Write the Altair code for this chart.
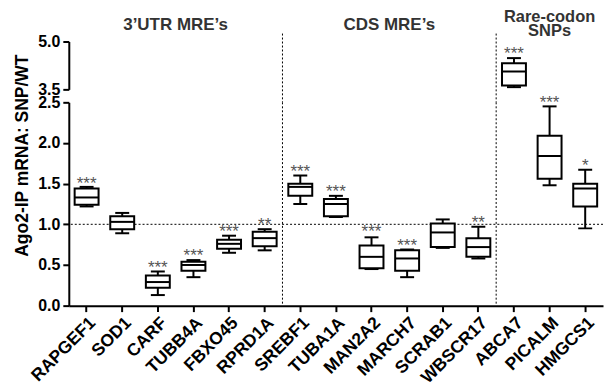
import altair as alt
import pandas as pd

genes = ["RAPGEF1", "SOD1", "CARF", "TUBB4A", "FBXO45", "RPRD1A", "SREBF1", "TUBA1A",
         "MAN2A2", "MARCH7", "SCRAB1", "WBSCR17", "ABCA7", "PICALM", "HMGCS1"]
wmin = [1.22, 0.89, 0.13, 0.35, 0.65, 0.68, 1.25, 1.09, 0.45, 0.35, 0.71, 0.58, 3.57, 1.48, 0.95]
q1 = [1.24, 0.94, 0.22, 0.43, 0.70, 0.73, 1.35, 1.10, 0.46, 0.43, 0.72, 0.60, 3.62, 1.56, 1.22]
med = [1.33, 1.03, 0.29, 0.50, 0.76, 0.83, 1.46, 1.25, 0.60, 0.58, 0.90, 0.72, 4.06, 1.84, 1.44]
q3 = [1.44, 1.10, 0.37, 0.54, 0.81, 0.91, 1.50, 1.31, 0.74, 0.68, 1.01, 0.83, 4.32, 2.09, 1.50]
wmax = [1.46, 1.14, 0.42, 0.56, 0.86, 0.94, 1.60, 1.35, 0.84, 0.69, 1.06, 0.97, 4.48, 2.45, 1.67]
sig = ["***", "", "***", "***", "***", "**", "***", "***", "***", "***", "", "**", "***", "***", "*"]
sig_y = [1.54, 1.20, 0.51, 0.66, 0.96, 1.04, 1.69, 1.44, 0.95, 0.78, 1.10, 1.07, 4.72, 2.54, 1.76]

group_labels = ["3\u2019UTR MRE\u2019s", "CDS MRE\u2019s"]
group_anchor = ["TUBB4A", "MARCH7"]
rare_lines = ["Rare-codon", "SNPs"]
rare_anchor = "PICALM"
separators = ["SREBF1", "ABCA7"]
ref_line = [1.0]

FONT = "Liberation Sans"

df = pd.DataFrame({"gene": genes, "wmin": wmin, "q1": q1, "med": med, "q3": q3,
                   "wmax": wmax, "sig": sig, "sig_y": sig_y})
upper_df = df[df["gene"] == "ABCA7"]
lower_df = df[df["gene"] != "ABCA7"]

W = 536
xscale = alt.Scale(domain=genes, paddingInner=0, paddingOuter=0)


def make_panel(data, ydomain, yvalues, show_x, ytitle):
    yscale = alt.Scale(domain=ydomain, nice=False, zero=False)
    yaxis_kwargs = dict(values=yvalues, format=".1f", labelFontSize=16, labelFontWeight="bold",
                        labelColor="black", labelFlush=False, labelOverlap=False, grid=False,
                        tickSize=6, tickWidth=2, tickColor="black", domainWidth=2,
                        domainColor="black", labelPadding=3)
    if ytitle:
        yaxis = alt.Axis(title=ytitle, titleX=-37, titleY=53, titleFontSize=17.5,
                         titleFontWeight="bold", titleColor="black", **yaxis_kwargs)
    else:
        yaxis = alt.Axis(title=None, **yaxis_kwargs)
    if show_x:
        xaxis = alt.Axis(title=None, labelAngle=-45, labelFontSize=17.5, labelFontWeight="bold",
                         labelColor="black", tickSize=6, tickWidth=2, tickColor="black",
                         domainWidth=2, domainColor="black", labelPadding=2, grid=False)
    else:
        xaxis = None

    def X(**kw):
        return alt.X("gene:N", sort=genes, scale=xscale, axis=xaxis, **kw)

    def Y(field):
        return alt.Y(f"{field}:Q", scale=yscale, axis=yaxis)

    base = alt.Chart(data)
    whisk = base.mark_rule(strokeWidth=2, color="black").encode(x=X(), y=Y("wmin"), y2="wmax")
    box = base.mark_bar(size=24, fill="white", stroke="black", strokeWidth=2).encode(
        x=X(), y=Y("q1"), y2="q3")
    medt = base.mark_tick(size=24, thickness=2, color="black", opacity=1).encode(x=X(), y=Y("med"))
    cap_lo = base.mark_tick(size=14, thickness=2, color="black", opacity=1).encode(x=X(), y=Y("wmin"))
    cap_hi = base.mark_tick(size=14, thickness=2, color="black", opacity=1).encode(x=X(), y=Y("wmax"))
    stars = base.mark_text(font=FONT, fontSize=17, color="#555555", baseline="middle", dy=4).encode(
        x=X(), y=Y("sig_y"), text="sig:N")
    layers = [whisk, box, medt, cap_lo, cap_hi, stars]
    return layers, X, Y


lo_layers, lX, lY = make_panel(lower_df, [0, 2.5], [0, 0.5, 1.0, 1.5, 2.0, 2.5], True,
                               "Ago2-IP mRNA: SNP/WT")
hline = alt.Chart(pd.DataFrame({"v": ref_line})).mark_rule(
    color="black", strokeWidth=1, strokeDash=[2, 2]).encode(y=lY("v"))
vsep_lo = alt.Chart(pd.DataFrame({"gene": separators})).mark_rule(
    color="black", strokeWidth=1, strokeDash=[2, 2]).encode(x=lX(bandPosition=0))
lower = alt.layer(hline, vsep_lo, *lo_layers).properties(width=W, height=204)

up_layers, uX, uY = make_panel(upper_df, [3.5, 5.0], [3.5, 5.0], False, None)
vsep_up = alt.Chart(pd.DataFrame({"gene": separators})).mark_rule(
    color="black", strokeWidth=1, strokeDash=[2, 2]).encode(
    x=uX(bandPosition=0), y=alt.value(-8), y2=alt.value(61))
grp = alt.Chart(pd.DataFrame({"label": group_labels, "gene": group_anchor})).mark_text(
    font=FONT, fontSize=17, fontWeight="bold", color="#333333", baseline="alphabetic").encode(
    x=uX(bandPosition=0), y=alt.value(-12), text="label:N")
rare1 = alt.Chart(pd.DataFrame({"label": [rare_lines[0]], "gene": [rare_anchor]})).mark_text(
    font=FONT, fontSize=16.5, fontWeight="bold", color="#333333", baseline="alphabetic").encode(
    x=uX(), y=alt.value(-20), text="label:N")
rare2 = alt.Chart(pd.DataFrame({"label": [rare_lines[1]], "gene": [rare_anchor]})).mark_text(
    font=FONT, fontSize=16.5, fontWeight="bold", color="#333333", baseline="alphabetic").encode(
    x=uX(), y=alt.value(-6), text="label:N")
upper = alt.layer(vsep_up, *up_layers, grp, rare1, rare2).properties(width=W, height=48)

chart = alt.vconcat(upper, lower, spacing=13, bounds="flush").properties(
    padding={"left": 5, "top": 0, "right": 0, "bottom": 0}
).configure(font=FONT).configure_view(stroke=None)

chart.save("out.html", embed_options={"renderer": "svg", "actions": False})
